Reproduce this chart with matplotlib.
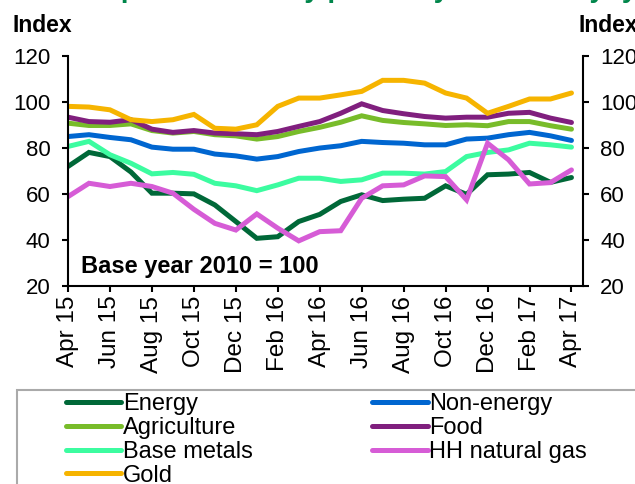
import matplotlib
matplotlib.use("Agg")
import matplotlib.pyplot as plt
from matplotlib.patches import Rectangle
import numpy as np

plt.rcParams["font.family"] = ["Liberation Sans", "DejaVu Sans"]

months = ["Apr 15", "May 15", "Jun 15", "Jul 15", "Aug 15", "Sep 15", "Oct 15", "Nov 15",
          "Dec 15", "Jan 16", "Feb 16", "Mar 16", "Apr 16", "May 16", "Jun 16", "Jul 16",
          "Aug 16", "Sep 16", "Oct 16", "Nov 16", "Dec 16", "Jan 17", "Feb 17", "Mar 17",
          "Apr 17"]

energy = [71.9, 78, 76.2, 69.5, 60.3, 60.3, 60, 55.2, 48, 40.7, 41.4, 48, 51.1, 56.7,
          59.6, 57.1, 57.7, 58.1, 63.5, 59.8, 68.3, 68.6, 69.3, 65, 67.1]
non_energy = [84.9, 85.7, 84.5, 83.5, 80.3, 79.4, 79.4, 77.3, 76.5, 75.1, 76.2, 78.4, 79.9,
              80.9, 82.8, 82.3, 82, 81.3, 81.3, 83.8, 84.2, 85.7, 86.7, 85.2, 83.2]
agriculture = [90.7, 89.7, 89.7, 90.4, 87.5, 86.4, 87.1, 85.7, 85.2, 83.8, 84.9, 87.1, 88.9,
               91.1, 93.9, 91.9, 91, 90.4, 89.7, 90, 89.6, 91.4, 91.4, 89.6, 88.1]
food = [93.3, 91.4, 91.1, 92.2, 88.1, 86.7, 87.5, 86.4, 86.1, 85.7, 87.1, 89.3, 91.4, 95,
        99.1, 96.2, 94.8, 93.6, 92.9, 93.3, 93.3, 95, 95.4, 92.9, 91]
base_metals = [80.6, 82.8, 77, 73.3, 68.7, 69.3, 68.5, 64.6, 63.5, 61.4, 63.9, 66.8, 66.8,
               65.4, 66.1, 69, 69, 68.6, 69.7, 76.2, 78, 79.1, 82, 81.3, 80.3]
hh_gas = [58.8, 64.6, 63.2, 64.6, 63.2, 60.3, 53.3, 47.2, 44.3, 51.3, 45.1, 39.6, 43.6, 44,
          58.1, 63.5, 63.9, 67.8, 67.5, 57.4, 82, 74.8, 64.3, 64.9, 70.4]
gold = [98, 97.7, 96.5, 92.2, 91.4, 92.2, 94.5, 88.5, 88.1, 90, 98, 101.6, 101.6, 103,
        104.5, 109.3, 109.3, 108.1, 103.8, 101.6, 95, 98, 101.2, 101.2, 103.8]

series = [
    ("Energy", energy, "#006838"),
    ("Non-energy", non_energy, "#0066d0"),
    ("Agriculture", agriculture, "#78bc2a"),
    ("Food", food, "#801f7e"),
    ("Base metals", base_metals, "#3cfca0"),
    ("HH natural gas", hh_gas, "#d65cd6"),
    ("Gold", gold, "#f6b400"),
]

W, H = 635, 484
fig = plt.figure(figsize=(W / 100, H / 100), dpi=100)
ax = fig.add_axes([68 / W, 1 - 286 / H, (583 - 68) / W, (286 - 55.7) / H])

x = np.arange(len(months))
lines = {}
for name, vals, col in series:
    lines[name], = ax.plot(x, vals, color=col, lw=3.6, solid_joinstyle="miter",
                           solid_capstyle="round", label=name)

ax.set_xlim(0, 24.55)
ax.set_ylim(20, 120)
ax.set_yticks(range(20, 121, 20))
ax.set_xticks(x[::2])
ax.set_xticklabels(months[::2], rotation=90)

for s in ["top", "right"]:
    ax.spines[s].set_visible(False)
for s in ["left", "bottom"]:
    ax.spines[s].set_linewidth(1.5)
ax.tick_params(axis="both", direction="out", length=4, width=1.5, labelsize=16)
ax.tick_params(axis="y", pad=8.5)
ax.tick_params(axis="x", pad=3, labelsize=17.5)

ax2 = ax.twinx()
ax2.set_ylim(20, 120)
ax2.set_yticks(range(20, 121, 20))
for s in ["top", "left", "bottom"]:
    ax2.spines[s].set_visible(False)
ax2.spines["right"].set_linewidth(1.5)
ax2.tick_params(axis="y", direction="out", length=4, width=1.5, labelsize=16, pad=8.5)

ax.text(0.025, 0.085, "Base year 2010 = 100", transform=ax.transAxes, fontsize=17,
        fontweight="bold", va="center", ha="left")

fig.text(12 / W, 1 - 26 / H, "Index", fontsize=16.5, fontweight="bold", va="center", ha="left")
fig.text(578 / W, 1 - 26 / H, "Index", fontsize=16.5, fontweight="bold", va="center", ha="left")
fig.text(-30 / W, 1 + 3 / H, "Exhibit 3: Spot commodity prices by commodity type",
         fontsize=20, fontweight="bold", color="#00864b", va="baseline", ha="left")

# legend box, cut off by the figure edge
fig.patches.append(Rectangle((17 / W, -0.05), 1.0, (1 - 390 / H) + 0.05,
                             transform=fig.transFigure, fill=False,
                             edgecolor="#aaaaaa", lw=1.5))
order = ["Energy", "Agriculture", "Base metals", "Gold", "Non-energy", "Food", "HH natural gas"]
fig.legend([lines[n] for n in order], order, ncol=2, frameon=False, fontsize=17,
           loc="upper left", bbox_to_anchor=(66 / W, 1 - 393 / H), handlelength=2.35,
           handletextpad=0.06, labelspacing=0.08, columnspacing=5.05, borderaxespad=0,
           borderpad=0)

fig.savefig("out.png", dpi=100)
